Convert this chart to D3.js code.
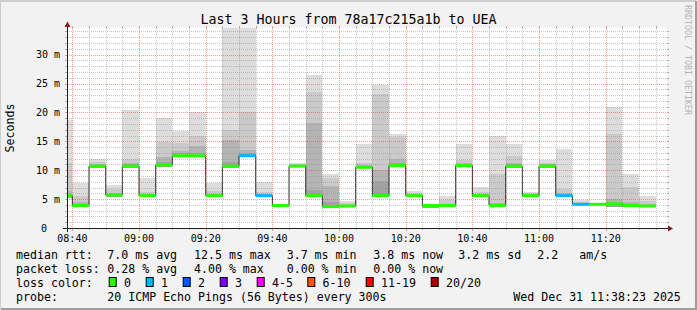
<!DOCTYPE html>
<html><head><meta charset="utf-8">
<script src="https://cdn.jsdelivr.net/npm/d3@7"></script>
<style>
body{margin:0;background:#f2f2f2;overflow:hidden}
svg{display:block}
text{font-family:"DejaVu Sans Mono",monospace;fill:#000}
</style>
</head><body>
<svg id="c" width="697" height="310"></svg>
<script>
// ---------------- data ----------------
const title = "Last 3 Hours from 78a17c215a1b to UEA";
const yAxisTitle = "Seconds";
const timeStart = "08:38:23", timeEnd = "11:38:23";
const segStart = ["08:38:23","08:40","08:45","08:50","08:55","09:00","09:05","09:10","09:15","09:20","09:25","09:30","09:35","09:40","09:45","09:50","09:55","10:00","10:05","10:10","10:15","10:20","10:25","10:30","10:35","10:40","10:45","10:50","10:55","11:00","11:05","11:10","11:15","11:20","11:25","11:30"];
const dataEnd = "11:35";
// median rtt per step (ms)
const medians = [5.6,3.9,10.7,5.7,10.7,5.6,10.9,12.5,12.5,5.6,10.7,12.5,5.6,3.9,10.7,5.6,3.7,3.8,10.5,5.6,10.8,5.6,3.9,3.9,10.8,5.6,3.9,10.7,5.6,10.7,5.6,4.1,4.1,4.2,3.9,3.8];
// lost pings (of 20) per step
const lossCount = [0,0,0,0,0,0,0,0,0,0,0,1,1,0,0,0,0,0,0,0,0,0,0,0,0,0,0,0,0,0,1,1,0,0,0,0];
// smoke (ms): lowest ping and tops of the four smoke bands (outer -> inner)
const smokeLow = [5.2,3.6,10.4,5.4,10.4,5.3,10.5,12.2,12.2,5.3,10.3,12.2,5.3,3.7,10.5,5.3,3.5,3.6,10.3,5.3,10.5,5.3,3.5,3.6,10.5,5.3,3.6,10.4,5.3,10.4,5.3,3.9,3.9,3.7,3.6,3.6];
const smokeMax = [18.6,7.75,12.0,7.5,20.5,8.6,19.1,16.7,20.0,7.7,40,40,7.9,4.2,11.2,26.4,9.4,4.6,14.6,24.7,16.2,6.4,4.2,5.6,14.6,7.1,16.0,14.6,6.3,11.7,13.6,4.9,4.3,20.9,9.3,5.5];
const smokeQ2 = [11.3,5.5,11.5,6.8,12.0,6.3,14.8,14.7,15.9,6.4,17.0,20.1,6.3,4.1,11.0,23.5,8.7,4.3,11.3,23.1,15.8,6.0,4.1,4.8,11.7,6.3,9.3,12.4,6.0,11.3,6.7,4.5,4.2,16.3,7.1,4.6];
const smokeQ3 = [6.4,4.5,11.0,6.0,11.2,5.9,12.2,13.3,14.2,5.9,15.3,13.5,5.9,4.0,10.8,18.1,7.2,4.0,10.9,10.1,12.0,5.8,4.0,4.2,11.2,5.9,4.3,11.2,5.8,11.0,6.0,4.2,4.15,5.0,4.5,4.2];
const smokeQ4 = [5.9,4.2,10.9,5.9,11.0,5.8,11.5,12.9,13.0,5.8,11.5,12.9,5.8,3.95,10.75,6.5,4.5,3.9,10.7,8.2,11.3,5.7,3.95,4.0,11.0,5.8,4.2,11.0,5.7,10.9,5.8,4.15,4.1,4.5,4.2,4.0];
const yTicks = [0,5,10,15,20,25,30];
const yTickLabels = ["0","5 m","10 m","15 m","20 m","25 m","30 m"];
const xTickLabels = ["08:40","09:00","09:20","09:40","10:00","10:20","10:40","11:00","11:20"];
// legend
const legendRtt = ["median rtt:","7.0 ms avg","12.5 ms max","3.7 ms min","3.8 ms now","3.2 ms sd","2.2","am/s"];
const legendLoss = ["packet loss:","0.28 % avg","4.00 % max","0.00 % min","0.00 % now"];
const lossLabels = ["0","1","2","3","4-5","6-10","11-19","20/20"];
const lossColors = ["#26ff00","#00b8ff","#0059ff","#7e00ff","#ff00ff","#ff5500","#ff0000","#a10000"];
const probeText = ["probe:","20 ICMP Echo Pings (56 Bytes) every 300s","Wed Dec 31 11:38:23 2025"];
const lossColorTitle = "loss color:";
const watermark = "RRDTOOL / TOBI OETIKER";

// ---------------- layout ----------------
const W = 697, H = 310;
const L = 67, R = 667, T = 28, B = 228;
const smokeColors = ["#dddddd","#cacaca","#b4b4b4","#a2a2a2"];
const gridCol = "rgba(143,143,143,0.5)", gridTick = "rgba(143,143,143,0.7)";
const mgridCol = "rgba(222,79,79,0.55)";

const svg = d3.select("#c");
const pt = s => d3.timeParse(s.length > 5 ? "%H:%M:%S" : "%H:%M")(s);
const x = d3.scaleTime().domain([pt(timeStart), pt(timeEnd)]).range([L, R]);
const y = d3.scaleLinear().domain([0, 200/5.78]).range([B, T]);

// background + frame
svg.append("rect").attr("width",W).attr("height",H).attr("fill","#f2f2f2");
svg.append("path").attr("d",`M0,${H-1}V1H${W-1}`).attr("stroke","#cecece").attr("stroke-width",2).attr("fill","none");
svg.append("path").attr("d",`M1,${H-1}H${W-1}V1`).attr("stroke","#9e9e9e").attr("stroke-width",2).attr("fill","none");
svg.append("rect").attr("x",L).attr("y",T).attr("width",R-L).attr("height",B-T).attr("fill","#ffffff");

const defs = svg.append("defs");
defs.append("clipPath").attr("id","pc").append("rect").attr("x",L).attr("y",T).attr("width",R-L).attr("height",B-T);

const edges = segStart.map(pt).concat([pt(dataEnd)]);
const segs = medians.map((m,i)=>({i, t0:edges[i], t1:edges[i+1], m, loss:lossCount[i],
  low:smokeLow[i], tops:[smokeMax[i],smokeQ2[i],smokeQ3[i],smokeQ4[i]]}));

// smoke
const gS = svg.append("g").attr("clip-path","url(#pc)");
smokeColors.forEach((c,k)=>{
  gS.selectAll(null).data(segs).enter().append("rect")
    .attr("x",d=>x(d.t0)).attr("width",d=>x(d.t1)-x(d.t0))
    .attr("y",d=>y(d.tops[k])).attr("height",d=>Math.max(0,y(d.low)-y(d.tops[k])))
    .attr("fill",c).attr("shape-rendering","crispEdges");
});

// median step line (thin dark)
const stepPts = [];
segs.forEach(d=>{stepPts.push([x(d.t0),y(d.m)]);stepPts.push([x(d.t1),y(d.m)]);});
svg.append("path").attr("d",d3.line()(stepPts)).attr("fill","none").attr("stroke","#202020").attr("stroke-width",1);

// grid
const gG = svg.append("g").attr("shape-rendering","crispEdges");
const minorT = d3.timeMinute.every(5).range(x.domain()[0], x.domain()[1]);
const majorSet = new Set(xTickLabels);
const fmt = d3.timeFormat("%H:%M");
const minorY = d3.range(1, 35).filter(v=>v%5!==0 && y(v)>=T);
minorY.forEach(v=>{
  const yy = Math.round(y(v))+0.5;
  gG.append("line").attr("x1",L).attr("x2",R).attr("y1",yy).attr("y2",yy).attr("stroke",gridCol).attr("stroke-dasharray","1,1");
  gG.append("line").attr("x1",L-2).attr("x2",L).attr("y1",yy).attr("y2",yy).attr("stroke",gridTick);
  gG.append("line").attr("x1",R).attr("x2",R+2).attr("y1",yy).attr("y2",yy).attr("stroke",gridTick);
});
minorT.filter(t=>!majorSet.has(fmt(t))).forEach(t=>{
  const xx = Math.round(x(t))+0.5;
  gG.append("line").attr("x1",xx).attr("x2",xx).attr("y1",T).attr("y2",B).attr("stroke",gridCol).attr("stroke-dasharray","1,1");
  gG.append("line").attr("x1",xx).attr("x2",xx).attr("y1",T-2).attr("y2",T).attr("stroke",gridTick);
  gG.append("line").attr("x1",xx).attr("x2",xx).attr("y1",B).attr("y2",B+2).attr("stroke",gridTick);
});
yTicks.filter(v=>v>0).forEach(v=>{
  const yy = Math.round(y(v))+0.5;
  gG.append("line").attr("x1",L).attr("x2",R).attr("y1",yy).attr("y2",yy).attr("stroke",mgridCol).attr("stroke-dasharray","1,1");
  gG.append("line").attr("x1",L-2).attr("x2",L).attr("y1",yy).attr("y2",yy).attr("stroke",mgridCol);
  gG.append("line").attr("x1",R).attr("x2",R+2).attr("y1",yy).attr("y2",yy).attr("stroke",mgridCol);
});
xTickLabels.map(pt).forEach(t=>{
  const xx = Math.round(x(t))+0.5;
  gG.append("line").attr("x1",xx).attr("x2",xx).attr("y1",T).attr("y2",B).attr("stroke",mgridCol).attr("stroke-dasharray","1,1");
  gG.append("line").attr("x1",xx).attr("x2",xx).attr("y1",T-2).attr("y2",T).attr("stroke",mgridCol);
  gG.append("line").attr("x1",xx).attr("x2",xx).attr("y1",B).attr("y2",B+3).attr("stroke",mgridCol);
});

// coloured median segments
const lossIdx = n => n===0?0:n===1?1:n===2?2:n===3?3:n<=5?4:n<=10?5:n<=19?6:7;
svg.append("g").selectAll(null).data(segs).enter().append("line")
  .attr("x1",d=>x(d.t0)).attr("x2",d=>x(d.t1)).attr("y1",d=>y(d.m)).attr("y2",d=>y(d.m))
  .attr("stroke",d=>lossColors[lossIdx(d.loss)]).attr("stroke-width",3);

// axes
const axisCol = "#1f1f1f", arrowCol = "#801f1f";
svg.append("line").attr("x1",L-4).attr("x2",R+2).attr("y1",B+0.5).attr("y2",B+0.5).attr("stroke",axisCol);
svg.append("line").attr("x1",L+0.5).attr("x2",L+0.5).attr("y1",B+4).attr("y2",T-2).attr("stroke",axisCol);
svg.append("path").attr("d",`M${R+1},${B-2.5}L${R+6},${B+0.5}L${R+1},${B+3.5}Z`).attr("fill",arrowCol);
svg.append("path").attr("d",`M${L-2.5},${T-1}L${L+0.5},${T-6.5}L${L+3.5},${T-1}Z`).attr("fill",arrowCol);

// y tick labels
yTicks.forEach((v,i)=>{
  svg.append("text").attr("x", v===0?47:60).attr("y",y(v)+3.5).attr("text-anchor","end")
    .style("font-size","10px").text(yTickLabels[i]);
});
// x tick labels
xTickLabels.forEach(s=>{
  svg.append("text").attr("x",x(pt(s))).attr("y",242).attr("text-anchor","middle")
    .style("font-size","10px").text(s);
});
// title
svg.append("text").attr("x",348.5).attr("y",23.5).attr("text-anchor","middle").style("font-size","13.3px").text(title);
// y axis title
svg.append("text").attr("transform","translate(14,128) rotate(-90)").attr("text-anchor","middle").style("font-size","11.6px").text(yAxisTitle);
// watermark
svg.append("text").attr("transform","translate(685,5) rotate(90)").attr("text-anchor","start")
  .style("font-size","8.3px").style("fill","#b4b4b4").text(watermark);

// legend
const fs = "11.6px";
const rttX = [16,107.3,194,286.7,373.3,458.3,537.3,579.3];
legendRtt.forEach((t,i)=>svg.append("text").attr("x",rttX[i]).attr("y",258.5).style("font-size",fs).text(t));
const lossX = [16,107.3,194,286.7,373.3];
legendLoss.forEach((t,i)=>svg.append("text").attr("x",lossX[i]).attr("y",272.5).style("font-size",fs).text(t));
svg.append("text").attr("x",16).attr("y",286.5).style("font-size",fs).text(lossColorTitle);
const boxX = [108.7,145.7,182.7,219.7,256.7,307.3,365.7,430.7];
lossLabels.forEach((t,i)=>{
  svg.append("rect").attr("x",boxX[i]+0.5).attr("y",277.5).attr("width",7).attr("height",9)
    .attr("fill",lossColors[i]).attr("stroke","#000").attr("stroke-width",1);
  svg.append("text").attr("x",boxX[i]+15.3).attr("y",286.5).style("font-size",fs).text(t);
});
const probeX = [16,107.3,513.3];
probeText.forEach((t,i)=>svg.append("text").attr("x",probeX[i]).attr("y",300.7).style("font-size",fs).text(t));
</script>
</body></html>
